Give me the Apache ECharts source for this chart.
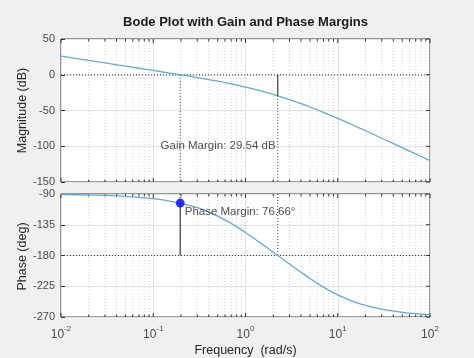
<!DOCTYPE html>
<html><head><meta charset="utf-8">
<script src="https://cdn.jsdelivr.net/npm/echarts@6.0.0/dist/echarts.min.js"></script>
<style>html,body{margin:0;padding:0;background:#f0f0f0}#c{width:474px;height:358px}</style>
</head><body><div id="c"></div>
<script>
// ---- data ----
const freqs = [0.01,0.02,0.03,0.05,0.07,0.1,0.15,0.2,0.3,0.4,0.5,0.7,1,1.2,1.5,2,2.5,3,4,5,7,10,15,20,30,50,70,100];
const magnitudeDb = [26.0,20.0,16.5,12.0,9.1,6.0,2.4,-0.2,-3.9,-6.7,-9.0,-12.7,-17.2,-19.7,-23.0,-27.6,-31.5,-34.9,-40.5,-45.1,-52.6,-61.0,-71.0,-78.3,-88.8,-102.0,-110.7,-120.0];
const phaseDeg = [-90.7,-91.4,-92.1,-93.4,-94.8,-96.9,-100.3,-103.6,-110.1,-116.4,-122.3,-133.0,-146.3,-153.7,-163.0,-175.2,-184.8,-192.5,-204.6,-213.7,-226.3,-237.7,-247.8,-253.1,-258.6,-263.1,-265.1,-266.6];
const gainMarginDb = 29.54;
const phaseMarginDeg = 76.66;
const gainCrossoverFreq = 0.196;
const phaseCrossoverFreq = 2.236;
const magRange = [-150, 50], magStep = 50;
const phaseRange = [-270, -90], phaseStep = 45;
const freqRange = [0.01, 100];
const freqDecades = [-2, -1, 0, 1, 2];
const gainLabelAnchor = [0.12, -100];
const titleText = 'Bode Plot with Gain and Phase Margins';
const magName = 'Magnitude (dB)';
const phaseName = 'Phase (deg)';
const freqName = 'Frequency  (rad/s)';
const gainText = 'Gain Margin: ' + gainMarginDb.toFixed(2) + ' dB';
const phaseText = 'Phase Margin: ' + phaseMarginDeg.toFixed(2) + '°';

// ---- decoration helpers ----
const FONT = '"Liberation Sans", Arial, Helvetica, sans-serif';
const tickFreqs = [];
for (let e = freqDecades[0]; e < freqDecades[freqDecades.length - 1]; e++) {
  for (let m = 1; m <= 9; m++) tickFreqs.push([m * Math.pow(10, e), m === 1 ? 1 : 0]);
}
tickFreqs.push([Math.pow(10, freqDecades[freqDecades.length - 1]), 1]);

function xDecor(yMin, yMax) {
  return function (params, api) {
    const f = api.value(0), major = api.value(1);
    const t = api.coord([f, yMax]), b = api.coord([f, yMin]);
    const len = major ? 4 : 2.5;
    const ch = [];
    if (!major) ch.push({type:'line', shape:{x1:t[0],y1:t[1],x2:b[0],y2:b[1]}, style:{stroke:'#d6d6d6', lineWidth:1, lineDash:[1,2]}});
    ch.push({type:'line', shape:{x1:t[0],y1:t[1],x2:t[0],y2:t[1]+len}, style:{stroke:'#333', lineWidth:1}});
    ch.push({type:'line', shape:{x1:b[0],y1:b[1],x2:b[0],y2:b[1]-len}, style:{stroke:'#333', lineWidth:1}});
    return {type:'group', children:ch};
  };
}
function yDecor() {
  return function (params, api) {
    const p = api.coord([freqRange[1], api.value(0)]);
    return {type:'line', shape:{x1:p[0],y1:p[1],x2:p[0]-4,y2:p[1]}, style:{stroke:'#333', lineWidth:1}};
  };
}
function ticksOf(r, s) { const a = []; for (let v = r[0]; v <= r[1]; v += s) a.push([v]); return a; }

const dotted = {color:'#3c3c3c', width:1, type:[1,2]};
function seg(xi, yi, pts, style, z) {
  return {type:'line', xAxisIndex:xi, yAxisIndex:yi, data:pts, showSymbol:false, symbol:'none', silent:true,
          lineStyle:style, z:z || 4, animation:false};
}
function vText(txt, x, y) {
  return {type:'text', x:x, y:y, rotation:Math.PI/2,
          style:{text:txt, x:0, y:0, align:'center', verticalAlign:'middle', font:'12.5px ' + FONT, fill:'#262626'}};
}

const option = {
  animation: false,
  backgroundColor: '#f0f0f0',
  textStyle: {fontFamily: FONT},
  graphic: [
    {type:'text', style:{text:titleText, x:245.5, y:22.5, align:'center', verticalAlign:'middle',
      font:'bold 13px ' + FONT, fill:'#1a1a1a'}},
    vText(magName, 23, 110.5),
    vText(phaseName, 23, 256.5)
  ],
  grid: [
    {left:61, top:39, width:369, height:143, show:true, backgroundColor:'#fff', borderColor:'#3a3a3a', borderWidth:1},
    {left:61, top:194, width:369, height:125, show:true, backgroundColor:'#fff', borderColor:'#3a3a3a', borderWidth:1}
  ],
  xAxis: [
    {type:'log', logBase:10, gridIndex:0, min:freqRange[0], max:freqRange[1],
     axisLine:{show:false}, axisTick:{show:false}, axisLabel:{show:false},
     splitLine:{show:true, lineStyle:{color:'#e2e2e2', width:1}}},
    {type:'log', logBase:10, gridIndex:1, min:freqRange[0], max:freqRange[1],
     axisLine:{show:false}, axisTick:{show:false},
     splitLine:{show:true, lineStyle:{color:'#e2e2e2', width:1}},
     axisLabel:{show:true, margin:8, color:'#4a4a4a',
       formatter: v => '{b|10}{s|' + Math.round(Math.log10(v)) + '}',
       rich:{b:{fontSize:12, lineHeight:16, verticalAlign:'bottom', color:'#4a4a4a', fontFamily:FONT},
             s:{fontSize:8, lineHeight:9, verticalAlign:'top', color:'#4a4a4a', fontFamily:FONT}}},
     name:freqName, nameLocation:'middle', nameGap:27,
     nameTextStyle:{fontSize:12.5, color:'#262626', fontFamily:FONT}}
  ],
  yAxis: [
    {type:'value', gridIndex:0, min:magRange[0], max:magRange[1], interval:magStep,
     axisLine:{show:false}, axisTick:{show:true, inside:true, length:4, lineStyle:{color:'#333'}},
     axisLabel:{fontSize:11, color:'#4a4a4a', margin:6, fontFamily:FONT},
     splitLine:{show:true, lineStyle:{color:'#e2e2e2'}}},
    {type:'value', gridIndex:1, min:phaseRange[0], max:phaseRange[1], interval:phaseStep,
     axisLine:{show:false}, axisTick:{show:true, inside:true, length:4, lineStyle:{color:'#333'}},
     axisLabel:{fontSize:11, color:'#4a4a4a', margin:6, fontFamily:FONT},
     splitLine:{show:true, lineStyle:{color:'#e2e2e2'}}}
  ],
  series: [
    {type:'custom', xAxisIndex:0, yAxisIndex:0, data:tickFreqs, renderItem:xDecor(magRange[0], magRange[1]), silent:true, z:1, clip:false},
    {type:'custom', xAxisIndex:1, yAxisIndex:1, data:tickFreqs, renderItem:xDecor(phaseRange[0], phaseRange[1]), silent:true, z:1, clip:false},
    {type:'custom', xAxisIndex:0, yAxisIndex:0, data:ticksOf(magRange, magStep), renderItem:yDecor(), silent:true, z:1, clip:false},
    {type:'custom', xAxisIndex:1, yAxisIndex:1, data:ticksOf(phaseRange, phaseStep), renderItem:yDecor(), silent:true, z:1, clip:false},
    // magnitude plot margin lines
    seg(0,0,[[freqRange[0],0],[freqRange[1],0]], dotted),
    seg(0,0,[[gainCrossoverFreq,0],[gainCrossoverFreq,magRange[0]]], dotted),
    seg(0,0,[[phaseCrossoverFreq,-gainMarginDb],[phaseCrossoverFreq,magRange[0]]], dotted),
    seg(0,0,[[phaseCrossoverFreq,0],[phaseCrossoverFreq,-gainMarginDb]], {color:'#3a3a3a', width:1.2}, 6),
    {type:'line', xAxisIndex:0, yAxisIndex:0, data:freqs.map((f,i)=>[f, magnitudeDb[i]]), showSymbol:false, symbol:'none',
     smooth:0.3, lineStyle:{color:'#62a9d6', width:1.3}, z:5},
    {type:'scatter', xAxisIndex:0, yAxisIndex:0, data:[gainLabelAnchor], symbolSize:0, silent:true, z:7,
     label:{show:true, position:'right', distance:0, formatter:gainText, fontSize:11.5, color:'#262626', fontFamily:FONT}},
    // phase plot margin lines
    seg(1,1,[[freqRange[0],-180],[freqRange[1],-180]], dotted),
    seg(1,1,[[phaseCrossoverFreq,phaseRange[1]],[phaseCrossoverFreq,-180]], dotted),
    seg(1,1,[[gainCrossoverFreq,phaseRange[1]],[gainCrossoverFreq,-180+phaseMarginDeg]], dotted),
    seg(1,1,[[gainCrossoverFreq,-180+phaseMarginDeg],[gainCrossoverFreq,-180]], {color:'#3a3a3a', width:1.2}, 6),
    {type:'line', xAxisIndex:1, yAxisIndex:1, data:freqs.map((f,i)=>[f, phaseDeg[i]]), showSymbol:false, symbol:'none',
     smooth:0.3, lineStyle:{color:'#62a9d6', width:1.3}, z:5},
    {type:'scatter', xAxisIndex:1, yAxisIndex:1, data:[[gainCrossoverFreq, -180+phaseMarginDeg]], symbolSize:9, z:8,
     itemStyle:{color:'#0000ff'},
     label:{show:true, position:'right', distance:0, offset:[0,9], formatter:phaseText, fontSize:11.5, color:'#262626', fontFamily:FONT}}
  ]
};
const chart = echarts.init(document.getElementById('c'), null, {renderer:'canvas'});
chart.setOption(option);
</script></body></html>
